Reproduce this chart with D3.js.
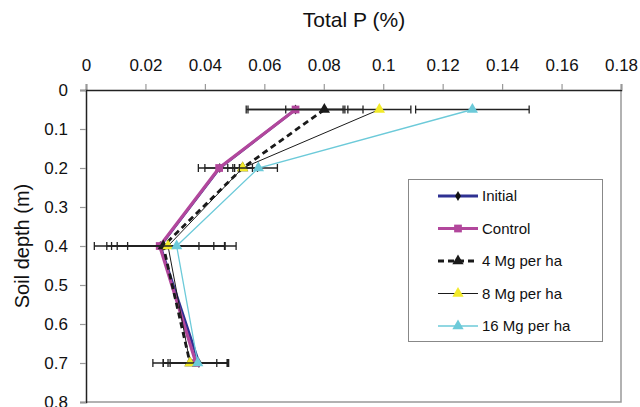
<!DOCTYPE html>
<html><head><meta charset="utf-8">
<script src="https://cdn.jsdelivr.net/npm/d3@7"></script>
<style>
html,body{margin:0;padding:0;background:#fff;}
svg{display:block;font-family:"Liberation Sans",Arial,sans-serif;}
</style></head>
<body><svg id="c" width="640" height="407"></svg>
<script>
const depths = [0.05, 0.2, 0.4, 0.7];
const xTicks = [0, 0.02, 0.04, 0.06, 0.08, 0.1, 0.12, 0.14, 0.16, 0.18];
const yTicks = [0, 0.1, 0.2, 0.3, 0.4, 0.5, 0.6, 0.7, 0.8];
const seriesNames = ["Initial", "Control", "4 Mg per ha", "8 Mg per ha", "16 Mg per ha"];
const initialP = [0.0705, 0.0450, 0.0250, 0.0380];
const controlP = [0.0705, 0.0448, 0.0248, 0.0370];
const mg4P = [0.0802, 0.0527, 0.0260, 0.0350];
const mg8P = [0.0987, 0.0527, 0.0276, 0.0350];
const mg16P = [0.1300, 0.0580, 0.0305, 0.0376];
const initialErr = [0.0160, 0.0050, 0.0180, 0.0097];
const controlErr = [0.0166, 0.0070, 0.0220, 0.0110];
const mg4Err = [0.0130, 0.0033, 0.0120, 0.0125];
const mg8Err = [0.0106, 0.0050, 0.0190, 0.0090];
const mg16Err = [0.0191, 0.0064, 0.0200, 0.0100];

const styles = [
  {color:"#2e3192", width:2.8, dash:null, marker:"diamond", mfill:"#111", msize:30},
  {color:"#b2479c", width:3.2, dash:null, marker:"square", mfill:"#b2479c", msize:60},
  {color:"#1a1a1a", width:2.8, dash:"6,4", marker:"triangle", mfill:"#1a1a1a", msize:55},
  {color:"#1a1a1a", width:1, dash:null, marker:"triangle", mfill:"#f2ea2a", msize:55},
  {color:"#6ccad9", width:1.3, dash:null, marker:"triangle", mfill:"#6ccad9", msize:55}
];
const values = [initialP, controlP, mg4P, mg8P, mg16P];
const errs = [initialErr, controlErr, mg4Err, mg8Err, mg16Err];

const svg = d3.select("#c");
const x = d3.scaleLinear().domain([0, 0.18]).range([86, 621]);
const y = d3.scaleLinear().domain([0, 0.8]).range([90, 402]);

svg.append("path").attr("d", `M${x(0.18)},${y(0)}V${y(0.8)}H${x(0)}`)
  .attr("fill","none").attr("stroke","#999").attr("stroke-width",1.5);

const xAxis = svg.append("g").attr("transform", `translate(0,${y(0)})`)
  .call(d3.axisTop(x).tickValues(xTicks).tickSize(6).tickPadding(13).tickFormat(d => d3.format("")(+d.toFixed(2))));
const yAxis = svg.append("g").attr("transform", `translate(${x(0)},0)`)
  .call(d3.axisLeft(y).tickValues(yTicks).tickSize(6).tickPadding(12).tickFormat(d => d3.format("")(+d.toFixed(1))));
[xAxis, yAxis].forEach(g => {
  g.select(".domain").attr("stroke","#222").attr("stroke-width",1.5);
  g.selectAll(".tick line").attr("stroke","#999").attr("stroke-width",1.2);
  g.selectAll(".tick text").attr("fill","#111").style("font-size","17px").style("font-family","Liberation Sans, Arial, sans-serif");
});

svg.append("text").attr("x", 354).attr("y", 27).attr("text-anchor","middle")
  .style("font-size","21px").attr("fill","#111").text("Total P (%)");
svg.append("text").attr("transform", `translate(29,${y(0.4)}) rotate(-90)`).attr("text-anchor","middle")
  .style("font-size","20px").attr("fill","#111").text("Soil depth (m)");

const line = d3.line().x(d => x(d[0])).y(d => y(d[1]));
const symType = {diamond: d3.symbolDiamond, square: d3.symbolSquare, triangle: d3.symbolTriangle};

values.forEach((vals, i) => {
  const st = styles[i];
  const g = svg.append("g");
  vals.forEach((v, j) => {
    const e = errs[i][j], yy = y(depths[j]);
    g.append("line").attr("x1", x(v - e)).attr("x2", x(v + e)).attr("y1", yy).attr("y2", yy)
      .attr("stroke","#222").attr("stroke-width",1.3);
    [v - e, v + e].forEach(xe => g.append("line").attr("x1", x(xe)).attr("x2", x(xe))
      .attr("y1", yy - 4).attr("y2", yy + 4).attr("stroke","#222").attr("stroke-width",1.3));
  });
  const pts = vals.map((v, j) => [v, depths[j]]);
  g.append("path").attr("d", line(pts)).attr("fill","none").attr("stroke", st.color)
    .attr("stroke-width", st.width).attr("stroke-dasharray", st.dash);
  pts.forEach(p => g.append("path").attr("d", d3.symbol().type(symType[st.marker]).size(st.msize)())
    .attr("transform", `translate(${x(p[0])},${y(p[1])})`).attr("fill", st.mfill));
});

const lg = svg.append("g");
lg.append("rect").attr("x",408.5).attr("y",179.5).attr("width",194).attr("height",162)
  .attr("fill","#fff").attr("stroke","#888").attr("stroke-width",1);
const legY = d3.scalePoint().domain(seriesNames).range([196, 326]);
seriesNames.forEach((name, i) => {
  const st = styles[i], yy = legY(name);
  lg.append("line").attr("x1",438).attr("x2",478).attr("y1",yy).attr("y2",yy)
    .attr("stroke", st.color).attr("stroke-width", st.width).attr("stroke-dasharray", st.dash);
  lg.append("path").attr("d", d3.symbol().type(symType[st.marker]).size(st.msize)())
    .attr("transform", `translate(458,${yy})`).attr("fill", st.mfill);
  lg.append("text").attr("x",482).attr("y",yy).attr("dy","0.36em")
    .style("font-size","15px").attr("fill","#111").text(name);
});
</script></body></html>
